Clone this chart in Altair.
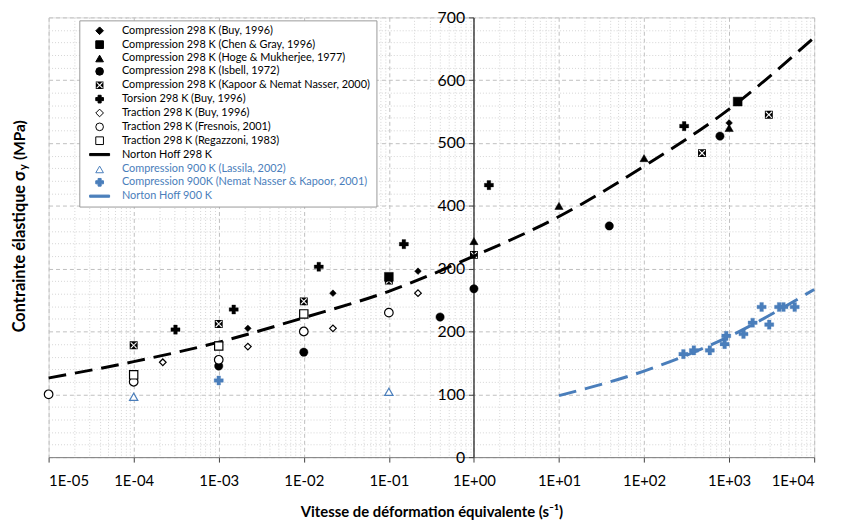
import altair as alt
import pandas as pd

BLUE = "#4A7EBB"

# ---------------- data ----------------
black_series = [
    "Compression 298 K (Buy, 1996)",
    "Compression 298 K (Chen & Gray, 1996)",
    "Compression 298 K (Hoge & Mukherjee, 1977)",
    "Compression 298 K (Isbell, 1972)",
    "Compression 298 K (Kapoor & Nemat Nasser, 2000)",
    "Torsion 298 K (Buy, 1996)",
    "Traction 298 K (Buy, 1996)",
    "Traction 298 K (Fresnois, 2001)",
    "Traction 298 K (Regazzoni, 1983)",
    "Norton Hoff 298 K",
]
blue_series = [
    "Compression 900 K (Lassila, 2002)",
    "Compression 900K (Nemat Nasser & Kapoor, 2001)",
    "Norton Hoff 900 K",
]

buy_c_x = [2.2e-3, 2.2e-2, 0.22, 1000]
buy_c_y = [205, 261, 296, 532]
chen_x = [0.1, 1260]
chen_y = [287, 566]
hoge_x = [1, 10, 100, 1000]
hoge_y = [344, 400, 476, 524]
isbell_x = [1e-3, 1e-2, 0.4, 1, 39, 780]
isbell_y = [145, 167, 223, 268, 368, 511]
kapoor_x = [1e-4, 1e-3, 1e-2, 0.1, 1, 480, 2930]
kapoor_y = [178, 212, 248, 281, 322, 484, 545]
torsion_x = [3.1e-4, 1.5e-3, 1.5e-2, 0.15, 1.5, 296]
torsion_y = [203, 235, 303, 339, 433, 527]
tract_buy_x = [2.2e-4, 2.2e-3, 2.2e-2, 0.22]
tract_buy_y = [151, 176, 205, 261]
fresnois_x = [1e-5, 1e-4, 1e-3, 1e-2, 1e-1]
fresnois_y = [100, 120, 155, 200, 230]
regazzoni_x = [1e-4, 1e-3, 1e-2]
regazzoni_y = [131, 177, 228]
lassila_x = [1e-4, 0.1]
lassila_y = [96, 104]
nemat_x = [1e-3, 290, 385, 593, 885, 925, 1475, 1890, 2410, 2960, 3870, 4350, 5900]
nemat_y = [122, 164, 170, 170, 180, 193, 196, 214, 239, 211, 239, 239, 239]

nh298_x = [1e-5, 1e-4, 1e-3, 1e-2, 1e-1, 1, 10, 100, 1000, 10000]
nh298_y = [126, 152, 183, 222, 264, 320, 383, 463, 554, 668]
nh900_x = [10, 100, 1000, 10000]
nh900_y = [98, 137, 192, 267]

# ---------------- styles ----------------
KAPOOR = ("M-1,-1L1,-1L1,1L-1,1Z M-0.8,-0.8L-0.8,0.8L0.8,0.8L0.8,-0.8Z "
          "M-0.6,-0.8L0.6,-0.8L0,-0.2Z M0.8,-0.6L0.8,0.6L0.2,0Z "
          "M0.6,0.8L-0.6,0.8L0,0.2Z M-0.8,0.6L-0.8,-0.6L-0.2,0Z")
LINE = "M-2.6,-0.28L2.6,-0.28L2.6,0.28L-2.6,0.28Z"

all_series = black_series + blue_series
# layer A (black): all 13 legend rows, the blue rows drawn invisible (covered by legend B)
shapes_a = ["diamond", "square", "triangle-up", "circle", KAPOOR, "cross", "diamond",
            "circle", "square", LINE, "circle", "circle", "circle"]
fills_a = ["black", "black", "black", "black", "black", "black", "white", "white",
           "white", "black", "transparent", "transparent", "transparent"]
strokes_a = ["black", "black", "black", "black", "transparent", "black", "black", "black",
             "black", "black", "transparent", "transparent", "transparent"]
shapes_b = ["triangle-up", "cross", LINE]
fills_b = ["white", BLUE, BLUE]
strokes_b = [BLUE, BLUE, BLUE]

size_of = dict(zip(all_series, [45, 80, 70, 70, 64, 85, 45, 75, 70, 0, 70, 85, 0]))
sw_of = dict(zip(all_series, [0.5, 0.5, 0.5, 0.5, 0, 0.3, 1.2, 1.2, 1.2, 0, 1.2, 0.3, 0]))

pairs_a = [
    (black_series[0], buy_c_x, buy_c_y), (black_series[1], chen_x, chen_y),
    (black_series[2], hoge_x, hoge_y), (black_series[3], isbell_x, isbell_y),
    (black_series[4], kapoor_x, kapoor_y), (black_series[5], torsion_x, torsion_y),
    (black_series[6], tract_buy_x, tract_buy_y), (black_series[7], fresnois_x, fresnois_y),
    (black_series[8], regazzoni_x, regazzoni_y),
]
pairs_b = [(blue_series[0], lassila_x, lassila_y), (blue_series[1], nemat_x, nemat_y)]


def frame(pairs):
    rows = []
    for name, xs, ys in pairs:
        for x, y in zip(xs, ys):
            rows.append({"x": x, "y": y, "series": name, "sz": size_of[name], "sw": sw_of[name]})
    return pd.DataFrame(rows)


pts_a = frame(pairs_a)
pts_b = frame(pairs_b)
nh298 = pd.DataFrame({"x": nh298_x, "y": nh298_y})
nh900 = pd.DataFrame({"x": nh900_x, "y": nh900_y})

FONT = "Lato"
xticks = [m * 10.0 ** k for k in range(-5, 4) for m in range(1, 10)] + [1e4]
major_x = "abs(log(datum.value)/LN10 - round(log(datum.value)/LN10)) < 1e-6"
e = "round(log(datum.value)/LN10)"
xlabel = (f"{major_x} ? '1E' + ({e} < 0 ? '-' : '+') + (abs({e}) < 10 ? '0' : '') + abs({e}) : ''")

xenc = alt.X("x:Q", scale=alt.Scale(type="log", domain=[1e-5, 1e4], nice=False),
             axis=alt.Axis(values=xticks, labelExpr=xlabel, labelOverlap=False,
                           labelFont=FONT, labelFontSize=15, labelColor="black", labelPadding=12,
                           title="Vitesse de déformation équivalente (s⁻¹)",
                           titleFont=FONT, titleFontSize=15, titleFontWeight="bold",
                           titleColor="black", titlePadding=16,
                           grid=True,
                           gridDash={"condition": {"test": major_x, "value": [4, 3]}, "value": [1, 2]},
                           gridColor={"condition": {"test": major_x, "value": "#BFBFBF"}, "value": "#D4D4D4"},
                           tickOpacity={"condition": {"test": major_x, "value": 1}, "value": 0},
                           tickSize=5, tickColor="#404040", domainColor="#808080"))

major_y = "datum.value % 100 === 0"
yenc = alt.Y("y:Q", scale=alt.Scale(domain=[0, 700], nice=False, zero=True),
             axis=alt.Axis(orient="left", offset=-429, values=list(range(0, 701, 20)),
                           labelExpr=f"{major_y} ? datum.label : ''",
                           labelFont=FONT, labelFontSize=16, labelColor="black", labelPadding=4,
                           title=None, grid=True,
                           gridDash={"condition": {"test": major_y, "value": [4, 3]}, "value": [1, 2]},
                           gridColor={"condition": {"test": major_y, "value": "#BFBFBF"}, "value": "#D4D4D4"},
                           tickOpacity={"condition": {"test": major_y, "value": 1}, "value": 0},
                           tickSize=5, tickColor="#404040", domainColor="#404040", domainWidth=1.5))

dash = [18, 9]
line298 = alt.Chart(nh298).mark_line(color="black", strokeWidth=3, strokeDash=dash,
                                     interpolate="monotone").encode(x=xenc, y=yenc)
line900 = alt.Chart(nh900).mark_line(color=BLUE, strokeWidth=3, strokeDash=dash,
                                     interpolate="monotone").encode(x=xenc, y=yenc)

LX, LY, ROW = 31, 3, 14
common = dict(orient="none", title=None, padding=5, labelFont=FONT, labelFontSize=11,
              labelLimit=400, labelOffset=17, symbolOffset=10, rowPadding=1, symbolOpacity=1,
              symbolSize=60, symbolStrokeWidth=1)
legend_a = alt.Legend(legendX=LX, legendY=LY, fillColor="white", strokeColor="#9A9A9A",
                      labelColor="black",
                      labelExpr="indexof(datum.label, '900') >= 0 ? '' : datum.label", **common)
legend_b = alt.Legend(legendX=LX, legendY=LY + ROW * len(black_series), labelColor=BLUE,
                      zindex=2, **common)

points_a = alt.Chart(pts_a).mark_point(opacity=1, fillOpacity=1).encode(
    x=xenc, y=yenc,
    shape=alt.Shape("series:N", scale=alt.Scale(domain=all_series, range=shapes_a), legend=legend_a),
    fill=alt.Fill("series:N", scale=alt.Scale(domain=all_series, range=fills_a)),
    stroke=alt.Stroke("series:N", scale=alt.Scale(domain=all_series, range=strokes_a)),
    size=alt.Size("sz:Q", scale=None),
    strokeWidth=alt.StrokeWidth("sw:Q", scale=None),
)
points_b = alt.Chart(pts_b).mark_point(opacity=1, fillOpacity=1).encode(
    x=xenc, y=yenc,
    shape=alt.Shape("series:N", scale=alt.Scale(domain=blue_series, range=shapes_b), legend=legend_b),
    fill=alt.Fill("series:N", scale=alt.Scale(domain=blue_series, range=fills_b)),
    stroke=alt.Stroke("series:N", scale=alt.Scale(domain=blue_series, range=strokes_b)),
    size=alt.Size("sz:Q", scale=None),
    strokeWidth=alt.StrokeWidth("sw:Q", scale=None),
)

# y-axis title with subscript (axis title replacement)
TFS = 16.5
t1 = alt.Chart(pd.DataFrame({"t": ["Contrainte élastique σ"]})).mark_text(
    angle=270, align="right", baseline="middle", font=FONT, fontSize=TFS, fontWeight="bold",
    color="black").encode(x=alt.value(-29), y=alt.value(155), text="t:N")
t2 = alt.Chart(pd.DataFrame({"t": ["y"]})).mark_text(
    angle=270, align="left", baseline="middle", font=FONT, fontSize=11, fontWeight="bold",
    color="black").encode(x=alt.value(-25), y=alt.value(154), text="t:N")
t3 = alt.Chart(pd.DataFrame({"t": ["(MPa)"]})).mark_text(
    angle=270, align="left", baseline="middle", font=FONT, fontSize=15.5, fontWeight="bold",
    color="black").encode(x=alt.value(-29), y=alt.value(144), text="t:N")

chart = alt.layer(line298, line900, points_a, points_b, t1, t2, t3).resolve_scale(
    shape="independent", fill="independent", stroke="independent"
).properties(
    width=773, height=444,
    autosize=alt.AutoSizeParams(type="none"),
    padding={"left": 41, "top": 7, "right": 20, "bottom": 63},
).configure_view(stroke=None).configure(background="white")

chart.save("out.html", embed_options={"renderer": "svg", "actions": False})
